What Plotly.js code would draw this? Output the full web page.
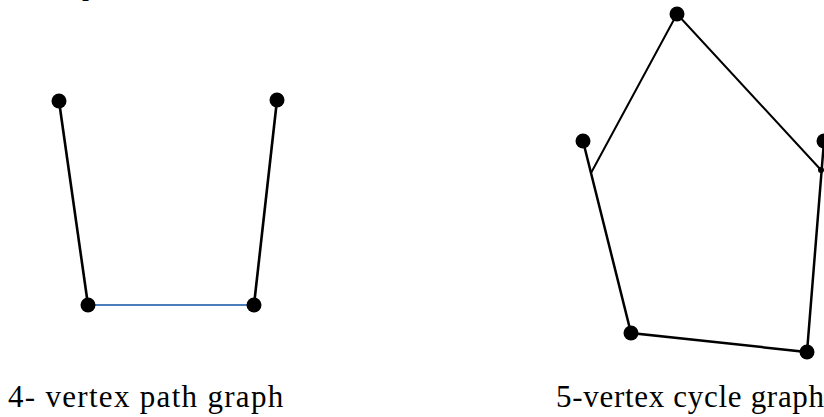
<!DOCTYPE html>
<html>
<head>
<meta charset="utf-8">
<script src="https://cdn.plot.ly/plotly-3.0.1.min.js"></script>
<style>html,body{margin:0;padding:0;background:#fff;}#chart{width:824px;height:417px;}</style>
</head>
<body>
<div id="chart"></div>
<script>
// 4-vertex path graph (positions)
const pathNodesX = [59, 88, 254, 277];
const pathNodesY = [101, 305, 305, 100];
const pathBlackEdgesX = [59, 88, null, 254, 277];
const pathBlackEdgesY = [101, 305, null, 305, 100];
const pathBlueEdgeX = [88, 254];
const pathBlueEdgeY = [305, 305];

// 5-vertex cycle graph
const cycleNodesX = [677, 583, 631, 807, 824];
const cycleNodesY = [14, 141, 333, 352, 141];
const cycleThinEdgesX = [591, 677, 821];
const cycleThinEdgesY = [173, 14, 170];
const cycleThickEdgesX = [583, 631, 807, 824];
const cycleThickEdgesY = [141, 333, 352, 141];
const cycleSmallNodeX = [821];
const cycleSmallNodeY = [170];

// captions
const captionTexts = ["4- vertex path graph", "5-vertex cycle graph"];
const captionX = [6, 554];
const captionSpacing = [1.3, 0.7];

const traces = [
  {x: pathBlackEdgesX, y: pathBlackEdgesY, mode: 'lines', line: {color: '#000', width: 2.6}, hoverinfo: 'skip'},
  {x: pathBlueEdgeX, y: pathBlueEdgeY, mode: 'lines', line: {color: '#4a7ebb', width: 2}, hoverinfo: 'skip'},
  {x: pathNodesX, y: pathNodesY, mode: 'markers', marker: {color: '#000', size: 15}, hoverinfo: 'skip'},
  {x: cycleThinEdgesX, y: cycleThinEdgesY, mode: 'lines', line: {color: '#000', width: 2}, hoverinfo: 'skip'},
  {x: cycleThickEdgesX, y: cycleThickEdgesY, mode: 'lines', line: {color: '#000', width: 2.5}, hoverinfo: 'skip'},
  {x: cycleNodesX, y: cycleNodesY, mode: 'markers', marker: {color: '#000', size: 15}, hoverinfo: 'skip'},
  {x: cycleSmallNodeX, y: cycleSmallNodeY, mode: 'markers', marker: {color: '#000', size: 6}, hoverinfo: 'skip'}
];

const annotations = captionTexts.map((t, i) => ({
  text: '<span style="letter-spacing:' + captionSpacing[i] + 'px">' + t + '</span>',
  x: captionX[i], y: 416, xref: 'x', yref: 'y',
  xanchor: 'left', yanchor: 'bottom', showarrow: false,
  font: {family: 'Liberation Serif, Times New Roman, serif', size: 31, color: '#000'}
}));
// cut-off glyph at the very top
annotations.push({text: 'p', x: 80, y: 3, xref: 'x', yref: 'y', xanchor: 'left', yanchor: 'bottom',
  showarrow: false, font: {family: 'Liberation Serif, serif', size: 28, color: '#000'}});

const layout = {
  width: 824, height: 417,
  margin: {l: 0, r: 0, t: 0, b: 0},
  paper_bgcolor: '#fff', plot_bgcolor: '#fff',
  showlegend: false,
  xaxis: {range: [0, 824], visible: false, fixedrange: true},
  yaxis: {range: [417, 0], visible: false, fixedrange: true},
  annotations: annotations
};

Plotly.newPlot('chart', traces, layout, {staticPlot: true, displayModeBar: false});
</script>
</body>
</html>
